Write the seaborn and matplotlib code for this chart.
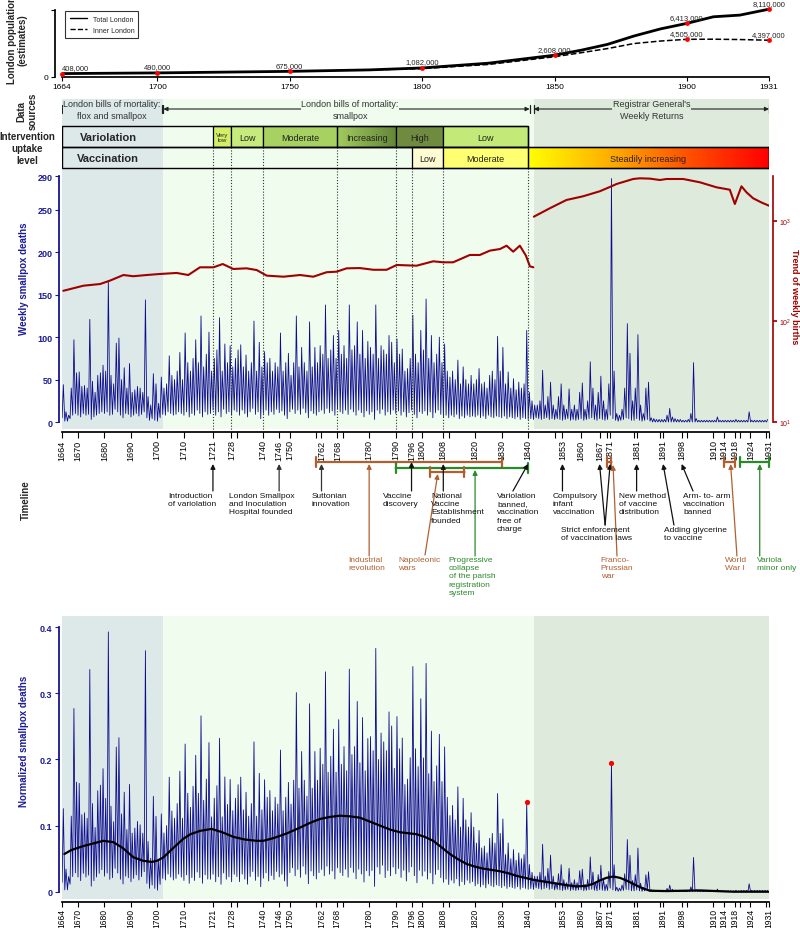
import numpy as np
import matplotlib
matplotlib.use("Agg")
import matplotlib.pyplot as plt
import matplotlib.ticker as mticker
from matplotlib.patches import Rectangle
from matplotlib.lines import Line2D
from matplotlib.colors import LinearSegmentedColormap
import seaborn as sns

# ------------------------------------------------------------------ data
pop_total_years = [1664, 1700, 1750, 1780, 1800, 1825, 1850, 1860, 1870, 1880, 1890, 1900, 1910, 1920, 1931]
pop_total = [408000, 490000, 675000, 850000, 1082000, 1650000, 2608000, 3200000, 3900000, 4900000,
             5750000, 6413000, 7200000, 7400000, 8110000]
pop_inner_years = [1780, 1800, 1825, 1850, 1860, 1870, 1880, 1890, 1900, 1910, 1920, 1931]
pop_inner = [850000, 1000000, 1500000, 2420000, 2900000, 3400000, 4000000, 4300000, 4505000, 4520000,
             4480000, 4397000]
pop_mark_years = [1664, 1700, 1750, 1800, 1850, 1900, 1931]
pop_mark_total = [408000, 490000, 675000, 1082000, 2608000, 6413000, 8110000]
pop_mark_inner_years = [1900, 1931]
pop_mark_inner = [4505000, 4397000]
pop_tick_years = [1664, 1700, 1750, 1800, 1850, 1900, 1931]

period_edges = [1664, 1702.1, 1842.2, 1931]
source_labels = ["London bills of mortality:\nflox and smallpox",
                 "London bills of mortality:\nsmallpox",
                 "Registrar General's\nWeekly Returns"]
source_ranges = [(1664, 1701.6), (1702.3, 1840.6), (1842.2, 1931)]

variolation_edges = [1721, 1728, 1740, 1768, 1790, 1808, 1840]
variolation_labels = ["Very\nlow", "Low", "Moderate", "Increasing", "High", "Low"]
vaccination_edges = [1796, 1808, 1840, 1931]
vaccination_labels = ["Low", "Moderate", "Steadily increasing"]
change_years = [1721, 1728, 1740, 1768, 1790, 1796, 1808, 1840]

# yearly maximum / minimum of weekly smallpox deaths, 1664 ... 1930
deaths_peak = [
    44, 12, 8, 40, 97, 58,
    59, 42, 43, 40, 121, 48, 35, 55, 58, 67,
    60, 167, 55, 45, 93, 99, 50, 64, 40, 69,
    35, 38, 42, 40, 35, 144, 30, 20, 57, 45,
    22, 53, 40, 45, 78, 55, 50, 60, 82, 50,
    105, 70, 60, 75, 97, 70, 125, 65, 80, 106,
    60, 75, 85, 123, 60, 92, 70, 90, 65, 75,
    85, 91, 65, 79, 60, 70, 119, 60, 94, 65,
    83, 70, 75, 60, 70, 65, 105, 60, 70, 81,
    55, 70, 125, 65, 88, 70, 60, 118, 65, 88,
    70, 90, 80, 138, 75, 85, 102, 75, 108, 80,
    90, 75, 138, 85, 90, 118, 80, 108, 75, 95,
    88, 80, 138, 75, 90, 85, 80, 102, 94, 70,
    98, 80, 86, 60, 63, 75, 126, 80, 70, 108,
    85, 145, 75, 102, 70, 80, 100, 70, 92, 60,
    53, 60, 50, 73, 45, 65, 50, 45, 55, 45,
    50, 63, 45, 47, 40, 55, 60, 50, 101, 60,
    88, 45, 59, 40, 51, 38, 47, 40, 45, 108,
    35, 25, 20, 20, 25, 61, 20, 30, 47, 20,
    15, 30, 45, 20, 15, 39, 15, 20, 15, 35,
    46, 15, 25, 71, 40, 20, 35, 54, 25, 15,
    45, 287, 60, 10, 8, 15, 40, 116, 81, 25,
    40, 103, 20, 10, 40, 47, 5, 4, 3, 3,
    3, 3, 8, 16, 6, 4, 3, 3, 2, 2,
    3, 10, 70, 4, 2, 2, 2, 2, 2, 2,
    2, 6, 2, 2, 2, 2, 2, 2, 3, 2,
    2, 2, 2, 12, 2, 2, 2, 2, 2, 2,
    3]
deaths_low = [
    5, 1, 1, 4, 8, 10,
    8, 6, 10, 8, 9, 3, 6, 8, 10, 12,
    10, 12, 8, 9, 15, 12, 8, 5, 10, 9,
    6, 8, 10, 7, 9, 12, 5, 2, 4, 2,
    1, 5, 9, 8, 12, 10, 8, 9, 12, 10,
    8, 12, 6, 10, 8, 14, 10, 6, 12, 9,
    10, 14, 8, 12, 6, 15, 10, 12, 8, 14,
    12, 8, 14, 10, 6, 12, 16, 9, 12, 4,
    10, 14, 8, 12, 9, 15, 11, 13, 8, 4,
    12, 15, 10, 14, 9, 16, 11, 5, 13, 10,
    8, 12, 14, 10, 16, 11, 13, 8, 15, 12,
    10, 14, 9, 15, 12, 8, 14, 11, 6, 13,
    9, 12, 3, 14, 10, 15, 8, 12, 9, 14,
    10, 13, 8, 12, 6, 11, 14, 9, 5, 12,
    10, 13, 8, 12, 5, 11, 14, 9, 6, 8,
    5, 8, 6, 9, 4, 7, 5, 8, 6, 7,
    6, 8, 5, 7, 4, 8, 6, 5, 7, 6,
    5, 7, 4, 6, 5, 4, 6, 3, 5, 4,
    3, 4, 3, 5, 4, 3, 4, 5, 3, 4,
    3, 4, 3, 2, 3, 4, 2, 3, 2, 3,
    4, 2, 3, 4, 5, 3, 2, 4, 3, 2,
    3, 8, 4, 2, 1, 2, 3, 5, 4, 2,
    2, 4, 2, 1, 2, 3, 1, 0, 0, 0,
    0, 0, 0, 0, 0, 0, 0, 0, 0, 0,
    0, 0, 0, 0, 0, 0, 0, 0, 0, 0,
    0, 0, 0, 0, 0, 0, 0, 0, 0, 0,
    0, 0, 0, 0, 0, 0, 0, 0, 0, 0,
    0]
first_year = 1664

# weekly deaths from all causes per decade (1660s ... 1930s), used for normalisation
allcause_weekly = [350, 360, 425, 395, 450, 470, 530, 525, 490, 415, 415, 410, 375, 370,
                   420, 460, 680, 800, 850, 1100, 1350, 1470, 1560, 1600, 1350, 1500, 1000, 1500]

births_bills_years = [1664.5, 1672.1, 1678.4, 1682.1, 1687.2, 1690.9, 1696, 1701, 1707.3, 1711.7,
                      1716.1, 1721.2, 1724.7, 1728.7, 1733.7, 1737.5, 1741.3, 1747.6, 1753.9, 1758.9,
                      1763.9, 1767.7, 1771.5, 1776.5, 1781.6, 1786.6, 1790.4, 1797.9, 1804.2, 1808,
                      1811.7, 1818, 1821.8, 1825.6, 1829.4, 1831.9, 1834.4, 1836.9, 1839.2, 1840.7, 1842]
births_bills = [202, 227, 236, 255, 290, 282, 290, 297, 304, 290,
                346, 346, 373, 333, 338, 325, 286, 279, 290, 279,
                309, 313, 338, 340, 327, 327, 365, 359, 397, 388,
                388, 459, 459, 507, 526, 568, 495, 568, 452, 354, 346]
births_reg_years = [1842.2, 1848.2, 1854.5, 1860.8, 1867.1, 1871.5, 1873.4, 1879.7, 1882.2, 1886,
                    1889.8, 1892.3, 1898.6, 1904.9, 1911.2, 1916.2, 1918.1, 1920.6, 1922.5, 1925,
                    1928, 1931]
births_reg = [1104, 1337, 1618, 1762, 1976, 2214, 2333, 2618, 2660, 2640,
              2558, 2618, 2618, 2427, 2163, 2047, 1476, 2214, 1930, 1683,
              1535, 1419]

trend_years = [1664.9, 1667.5, 1672, 1679.6, 1683.4, 1687, 1691, 1694.5, 1697.9, 1700,
               1702.3, 1706, 1709.8, 1712.5, 1716.1, 1720.5, 1724.5, 1728.7, 1733, 1737.5,
               1740, 1743.8, 1748.8, 1753.9, 1757.6, 1761.4, 1765, 1769, 1772.8, 1776.5,
               1780.3, 1784.1, 1787.9, 1791.6, 1797.9, 1801, 1804.2, 1807.4, 1810.5, 1813.6,
               1816.8, 1819.9, 1823, 1826.2, 1829.4, 1832.5, 1835.7, 1838.9, 1842, 1845.1,
               1848.2, 1851.4, 1854.5, 1858.3, 1862.1, 1864.6, 1867.1, 1869.6, 1872.2, 1874.7,
               1877.2, 1879.7, 1882.2, 1884.2, 1886, 1892.3, 1898.6, 1904.9, 1911.2, 1917.5,
               1924, 1931]
trend_vals = [0.057, 0.063, 0.069, 0.077, 0.075, 0.066, 0.052, 0.047, 0.045, 0.047,
              0.052, 0.066, 0.080, 0.087, 0.092, 0.095, 0.090, 0.083, 0.079, 0.077,
              0.077, 0.081, 0.088, 0.097, 0.104, 0.110, 0.113, 0.115, 0.114, 0.112,
              0.106, 0.100, 0.094, 0.090, 0.087, 0.083, 0.077, 0.067, 0.057, 0.049,
              0.042, 0.038, 0.035, 0.033, 0.031, 0.028, 0.024, 0.021, 0.018, 0.016,
              0.014, 0.012, 0.010, 0.008, 0.009, 0.012, 0.017, 0.021, 0.023, 0.021,
              0.017, 0.012, 0.007, 0.004, 0.0015, 0.001, 0.0015, 0.002, 0.001, 0.0,
              0.0, 0.0]
highlight_years = [1839, 1871]

main_tick_years = [1664, 1670, 1680, 1690, 1700, 1710, 1721, 1728, 1740, 1746, 1750, 1762, 1768,
                   1780, 1790, 1796, 1800, 1808, 1820, 1830, 1840, 1853, 1860, 1867, 1871, 1881,
                   1891, 1898, 1910, 1914, 1918, 1924, 1931]
minor_tick_years = [1730, 1760, 1770, 1810, 1850, 1870, 1880, 1890, 1900, 1920, 1930]

# ------------------------------------------------------------------ style
sns.set_theme(style="ticks")
plt.rcParams["font.family"] = ["Liberation Sans", "DejaVu Sans"]
plt.rcParams["axes.edgecolor"] = "black"
plt.rcParams["xtick.color"] = "black"
plt.rcParams["ytick.color"] = "black"

W, H = 800, 929
BLUE = "#0c0c8c"
LBL_BLUE = "#1c1c96"
RED = "#a00000"
BROWN = "#b06030"
GREEN = "#2a8a2a"
SHADES = ["#dde9e9", "#effcee", "#deebdc"]

fig = plt.figure(figsize=(8, 9.29), dpi=100)


def rect(x0, y0, x1, y1):
    return [x0 / W, 1 - y1 / H, (x1 - x0) / W, (y1 - y0) / H]


def fpt(x, y):
    return x / W, 1 - y / H


# ------------------------------------------------------------------ population panel
axp = fig.add_axes(rect(62, 9, 769, 78))
sns.lineplot(x=pop_total_years, y=pop_total, ax=axp, color="black", lw=2, legend=False)
sns.lineplot(x=pop_inner_years, y=pop_inner, ax=axp, color="black", lw=1.1, linestyle="--", legend=False)
axp.scatter(pop_mark_years, pop_mark_total, color="red", s=12, zorder=5, lw=0, clip_on=False)
axp.scatter(pop_mark_inner_years, pop_mark_inner, color="red", s=12, zorder=5, lw=0, clip_on=False)
for yr, v in zip(pop_mark_years, pop_mark_total):
    ha = "left" if yr == 1664 else "center"
    axp.annotate(f"{v:,}", (yr, v), xytext=(0, 1.8), textcoords="offset points", ha=ha, va="bottom",
                 fontsize=5.5, annotation_clip=False)
for yr, v in zip(pop_mark_inner_years, pop_mark_inner):
    axp.annotate(f"{v:,}", (yr, v), xytext=(0, 1.8), textcoords="offset points", ha="center", va="bottom",
                 fontsize=5.5, annotation_clip=False)
axp.set_xlim(1664, 1931)
axp.set_ylim(0, 8.25e6)
axp.spines[["top", "right"]].set_visible(False)
axp.spines["left"].set_position(("outward", 5))
axp.spines["left"].set_bounds(0, 8e6)
axp.set_yticks([0, 8e6])
axp.set_yticklabels(["0", ""])
axp.set_xticks(pop_tick_years)
axp.tick_params(axis="both", length=3, width=0.8, labelsize=6, pad=1.5)
axp.set_xlabel("")
axp.set_ylabel("")
leg = axp.legend(handles=[Line2D([], [], color="black", lw=1.0), Line2D([], [], color="black", lw=1.0, ls="--")],
                 labels=["Total London", "Inner London"], loc="upper left", bbox_to_anchor=(0.0, 1.0),
                 fontsize=5, frameon=True, fancybox=False, edgecolor="black", handlelength=2.5,
                 borderpad=0.6, labelspacing=0.6)
leg.get_frame().set_linewidth(0.8)

# ------------------------------------------------------------------ main weekly panel
years = np.arange(first_year, first_year + len(deaths_peak))
dx = np.column_stack([years + 0.05, years + 0.5]).ravel()
dy = np.column_stack([deaths_low, deaths_peak]).ravel().astype(float)

axm = fig.add_axes(rect(62, 100, 769, 430))
axm.set_xlim(1664, 1931)
for a, b, c in zip(period_edges[:-1], period_edges[1:], SHADES):
    axm.axvspan(a, b, color=c, lw=0, zorder=0)
sns.lineplot(x=dx, y=dy, ax=axm, color=BLUE, lw=0.6, estimator=None, sort=False, zorder=3)
axm.set_ylim(-8.25, 380.8)
axm.spines[["top", "right"]].set_visible(False)
axm.spines["left"].set_bounds(0, 290)
axm.spines["left"].set_position(("outward", 2))
axm.spines["left"].set_color(BLUE)
axm.spines["bottom"].set_position(("outward", 2))
axm.set_yticks([0, 50, 100, 150, 200, 250, 290])
axm.set_xticks(main_tick_years)
axm.set_xticks(minor_tick_years, minor=True)
axm.tick_params(axis="x", which="both", length=4, width=0.8, labelsize=6.5, labelrotation=90, pad=1.5)
axm.tick_params(axis="y", length=3, width=0.8, colors=LBL_BLUE, labelsize=6.5, pad=2)
for lab in axm.get_yticklabels():
    lab.set_fontweight("bold")
axm.set_xlabel("")
axm.set_ylabel("")

axb = axm.twinx()
sns.lineplot(x=births_bills_years, y=births_bills, ax=axb, color=RED, lw=1.5, estimator=None, sort=False)
sns.lineplot(x=births_reg_years, y=births_reg, ax=axb, color=RED, lw=1.5, estimator=None, sort=False)
axb.set_yscale("log")
axb.set_ylim(10 ** 0.930, 10 ** 4.214)
axb.set_xlim(1664, 1931)
for s in ["top", "left", "bottom"]:
    axb.spines[s].set_visible(False)
axb.spines["right"].set_bounds(10, 2806)
axb.spines["right"].set_position(("outward", 3))
axb.spines["right"].set_color(RED)
axb.spines["right"].set_linewidth(1.2)
axb.set_yticks([10, 100, 1000])
axb.yaxis.set_major_formatter(mticker.LogFormatterMathtext())
axb.yaxis.set_minor_locator(mticker.NullLocator())
axb.tick_params(axis="y", length=3, colors=RED, labelsize=5, pad=1)
axb.set_ylabel("")
axb.set_xlabel("")

# ------------------------------------------------------------------ normalised panel
dec_idx = (years - 1660) // 10
norm_factor = np.array(allcause_weekly)[dec_idx]
ny = np.column_stack([np.array(deaths_low) / norm_factor, np.array(deaths_peak) / norm_factor]).ravel()

axn = fig.add_axes(rect(62, 617, 769, 900))
axn.set_xlim(1664, 1931)
for a, b, c in zip(period_edges[:-1], period_edges[1:], SHADES):
    axn.axvspan(a, b, color=c, lw=0, zorder=0)
sns.lineplot(x=dx, y=ny, ax=axn, color=BLUE, lw=0.6, estimator=None, sort=False, zorder=3)
sns.lineplot(x=trend_years, y=trend_vals, ax=axn, color="black", lw=1.6, estimator=None, sort=False, zorder=4)
hl_idx = [y - first_year for y in highlight_years]
axn.scatter([years[i] + 0.5 for i in hl_idx], [deaths_peak[i] / norm_factor[i] for i in hl_idx],
            color="red", s=14, zorder=6, lw=0)
axn.set_ylim(-0.011, 0.417)
axn.spines[["top", "right"]].set_visible(False)
axn.spines["left"].set_bounds(0, 0.4)
axn.spines["left"].set_position(("outward", 2))
axn.spines["left"].set_color(BLUE)
axn.spines["bottom"].set_position(("outward", 2))
axn.set_yticks([0, 0.1, 0.2, 0.3, 0.4])
axn.set_yticklabels(["0", "0.1", "0.2", "0.3", "0.4"])
axn.set_xticks(main_tick_years)
axn.set_xticks(minor_tick_years, minor=True)
axn.tick_params(axis="x", which="both", length=3.5, width=0.8, labelsize=6.2, labelrotation=90, pad=1)
axn.tick_params(axis="y", length=3, width=0.8, colors=LBL_BLUE, labelsize=6.5, pad=2)
for lab in axn.get_yticklabels():
    lab.set_fontweight("bold")
axn.set_xlabel("")
axn.set_ylabel("")

# ------------------------------------------------------------------ overlay (x = years, y = pixels)
axo = fig.add_axes([62 / W, 0, 707 / W, 1])
axo.set_zorder(10)
axo.patch.set_alpha(0)
axo.axis("off")

# data-source arrows
for (a, b) in source_ranges:
    axo.annotate("", xy=(b, 110), xytext=(a, 110),
                 arrowprops=dict(arrowstyle="<|-|>", color="#222222", lw=0.8, mutation_scale=6,
                                 shrinkA=0, shrinkB=0))
    axo.plot([a, a], [106, 114], color="#222222", lw=0.9)
    axo.plot([b, b], [106, 114], color="#222222", lw=0.9)
src_x = [1682.9, 1772.8, 1886.7]
for x, lab, bg in zip(src_x, source_labels, SHADES):
    axo.text(x, 110.5, lab, ha="center", va="center", fontsize=6.5, color="#333333", linespacing=1.3,
             bbox=dict(fc=bg, ec="none", pad=0.3))

# intervention rows
var_colors = ["#d2ef66", "#c6ea7c", "#a7d160", None, "#6f8b3f", "#c3ea78"]
vac_colors = ["#fdfbd2", "#ffff72", None]
grad = np.linspace(0, 1, 256).reshape(1, -1)
for i, lab in enumerate(variolation_labels):
    a, b = variolation_edges[i], variolation_edges[i + 1]
    if var_colors[i] is None:
        cm = LinearSegmentedColormap.from_list("inc", ["#a2cb5e", "#65863a"])
        axo.imshow(grad, cmap=cm, extent=(a, b, 148, 127), aspect="auto", zorder=2, interpolation="bilinear")
        axo.add_patch(Rectangle((a, 127), b - a, 21, fill=False, ec="black", lw=0.9, zorder=3))
    else:
        axo.add_patch(Rectangle((a, 127), b - a, 21, fc=var_colors[i], ec="black", lw=0.9, zorder=3))
    fs = 4.5 if "\n" in lab else 6.5
    axo.text((a + b) / 2, 138, lab, ha="center", va="center", fontsize=fs, color="#222222", zorder=4,
             linespacing=0.95)
for i, lab in enumerate(vaccination_labels):
    a, b = vaccination_edges[i], vaccination_edges[i + 1]
    if vac_colors[i] is None:
        cm = LinearSegmentedColormap.from_list("steady", ["#ffff00", "#ffb000", "#ff5000", "#ff0000"])
        axo.imshow(grad, cmap=cm, extent=(a, b, 169, 148), aspect="auto", zorder=2, interpolation="bilinear")
        axo.add_patch(Rectangle((a, 148), b - a, 21, fill=False, ec="black", lw=0.9, zorder=3))
    else:
        axo.add_patch(Rectangle((a, 148), b - a, 21, fc=vac_colors[i], ec="black", lw=0.9, zorder=3))
    axo.text((a + b) / 2, 159, lab, ha="center", va="center", fontsize=6.5, color="#222222", zorder=4)
axo.add_patch(Rectangle((1664, 127), 1840 - 1664, 21, fill=False, ec="black", lw=1.0, zorder=3))
axo.add_patch(Rectangle((1664, 148), 1931 - 1664, 21, fill=False, ec="black", lw=1.0, zorder=3))
axo.text(1681.5, 138, "Variolation", ha="center", va="center", fontsize=8, fontweight="bold", zorder=4)
axo.text(1681.5, 159, "Vaccination", ha="center", va="center", fontsize=8, fontweight="bold", zorder=4)

# dotted change lines
axo.vlines(change_years, 169, 432, colors="#333333", linestyles=(0, (1, 1.6)), lw=0.8, zorder=1)
axo.vlines([y for y in change_years if y < 1796], 148, 169, colors="#333333", linestyles=(0, (1, 1.6)),
           lw=0.8, zorder=1)


# timeline annotations
def arrow(x0, y0, x1, y1, color):
    axo.annotate("", xy=(x1, y1), xytext=(x0, y0),
                 arrowprops=dict(arrowstyle="-|>", color=color, lw=0.9, mutation_scale=7,
                                 shrinkA=0, shrinkB=0))


def span(x0, x1, y, color):
    axo.annotate("", xy=(x1, y), xytext=(x0, y),
                 arrowprops=dict(arrowstyle="|-|, widthA=0.35, widthB=0.35", color=color, lw=1.6,
                                 mutation_scale=10, shrinkA=0, shrinkB=0))


def label(x, y, s, color="#111111"):
    axo.text(x, y, s, ha="left", va="top", fontsize=6, color=color, linespacing=1.25)


span(1760, 1830, 463, BROWN)
span(1790, 1840, 469, GREEN)
span(1803, 1816, 473, BROWN)
span(1870, 1871.5, 463, BROWN)
span(1914, 1918, 463, BROWN)
span(1920, 1931, 463, GREEN)

arrow(1721, 492, 1721, 465, "#111111")
arrow(1746, 492, 1746, 465, "#333333")
arrow(1762, 492, 1762, 465, "#333333")
arrow(1796, 492, 1796, 463, "#111111")
arrow(1808, 492, 1808, 465, "#111111")
arrow(1834.3, 492, 1840, 465, "#111111")
arrow(1853, 492, 1853, 465, "#111111")
arrow(1869.1, 526, 1867, 465, "#111111")
arrow(1869.1, 526, 1871, 465, "#111111")
arrow(1881, 492, 1881, 465, "#111111")
arrow(1895.1, 526, 1891, 465, "#111111")
arrow(1902.3, 492, 1898, 465, "#111111")
arrow(1780, 557, 1780, 465, BROWN)
arrow(1801.1, 556, 1805.9, 475, BROWN)
arrow(1820, 557, 1820, 471, GREEN)
arrow(1873.6, 557, 1872.1, 466, BROWN)
arrow(1918.9, 557, 1916.5, 465, BROWN)
arrow(1927.5, 557, 1927.5, 465, GREEN)

label(1704.0, 493, "Introduction\nof variolation")
label(1727.1, 493, "London Smallpox\nand Inoculation\nHospital founded")
label(1758.4, 493, "Suttonian\ninnovation")
label(1785.2, 493, "Vaccine\ndiscovery")
label(1803.4, 493, "National\nVaccine\nEstablishment\nfounded")
label(1828.3, 493, "Variolation\nbanned,\nvaccination\nfree of\ncharge")
label(1849.4, 493, "Compulsory\ninfant\nvaccination")
label(1874.3, 493, "New method\nof vaccine\ndistribution")
label(1898.5, 493, "Arm- to- arm\nvaccination\nbanned")
label(1852.4, 527, "Strict enforcement\nof vaccination laws")
label(1891.3, 527, "Adding glycerine\nto vaccine")
label(1772.0, 557, "Industrial\nrevolution", BROWN)
label(1791.0, 557, "Napoleonic\nwars", BROWN)
label(1810.1, 557, "Progressive\ncollapse\nof the parish\nregistration\nsystem", GREEN)
label(1867.5, 557, "Franco-\nPrussian\nwar", BROWN)
label(1914.4, 557, "World\nWar I", BROWN)
label(1926.5, 557, "Variola\nminor only", GREEN)

axo.set_xlim(1664, 1931)
axo.set_ylim(H, 0)

# ------------------------------------------------------------------ side labels
fig.text(*fpt(17, 40), "London population\n(estimates)", rotation=90, ha="center", va="center",
         fontsize=7, fontweight="bold", multialignment="center", linespacing=1.1)
fig.text(*fpt(27, 111), "Data\nsources", rotation=90, ha="center", va="center",
         fontsize=7, fontweight="bold", multialignment="center", linespacing=1.1)
fig.text(*fpt(27, 149), "Intervention\nuptake\nlevel", ha="center", va="center",
         fontsize=7, fontweight="bold", multialignment="center", linespacing=1.2)
fig.text(*fpt(24, 279), "Weekly smallpox deaths", rotation=90, ha="center", va="center",
         fontsize=7, fontweight="bold", color=LBL_BLUE)
fig.text(*fpt(794, 297), "Trend of weekly births", rotation=270, ha="center", va="center",
         fontsize=6.5, fontweight="bold", color=RED)
fig.text(*fpt(26, 500), "Timeline", rotation=90, ha="center", va="center",
         fontsize=7, fontweight="bold")
fig.text(*fpt(24, 741), "Normalized smallpox deaths", rotation=90, ha="center", va="center",
         fontsize=7, fontweight="bold", color=LBL_BLUE)

fig.savefig("out.png", dpi=100)
